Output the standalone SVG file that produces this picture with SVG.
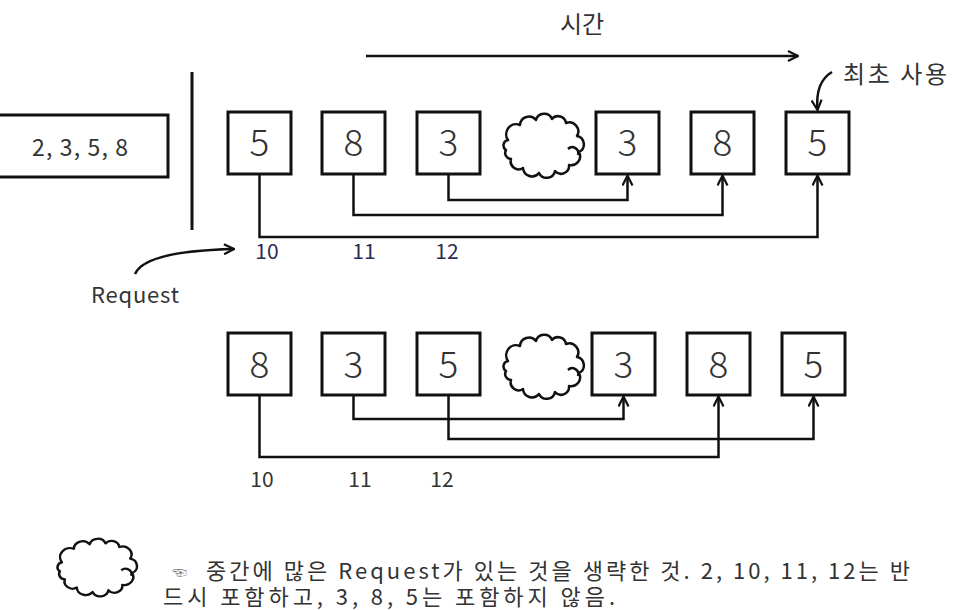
<svg xmlns="http://www.w3.org/2000/svg" xmlns:xlink="http://www.w3.org/1999/xlink" width="954" height="610" viewBox="0 0 954 610">
<style>
  .box { fill: #fff; stroke: #111; stroke-width: 3; }
  .num { font-family: "Noto Sans CJK KR", "Noto Sans", sans-serif; font-size: 37px; font-weight: 300; fill: #333; text-anchor: middle; }
  .lbl { font-family: "Noto Sans CJK KR", "Noto Sans", sans-serif; font-size: 21px; fill: #333; text-anchor: middle; }
  .lbl.top { fill: #2b2b55; }
  .txt { font-family: "Noto Sans CJK KR", "Noto Sans", sans-serif; fill: #333; }
  .conn { fill: none; stroke: #111; stroke-width: 2.5; }
  .cloud { fill: #fff; stroke: #111; stroke-width: 2.5; stroke-linejoin: round; }
</style>
<defs>
  <marker id="arr" viewBox="0 0 12 12" refX="11" refY="6" markerWidth="12" markerHeight="12" markerUnits="userSpaceOnUse" orient="auto">
    <path d="M1,1 L11,6 L1,11" fill="none" stroke="#111" stroke-width="2.2"/>
  </marker>
  <g id="cloud">
    <path class="cloud" d="M9,27 A10,10 0 0 1 21,12 A9,9 0 0 1 37,7 A8.5,8.5 0 0 1 53,6 A8,8 0 0 1 67,10 A9,9 0 0 1 78,23 A8.5,8.5 0 0 1 80,39 A9,9 0 0 1 70,52 A8,8 0 0 1 56,58 A8.5,8.5 0 0 1 40,60 A9,9 0 0 1 24,55 A8,8 0 0 1 12,46 A6,6 0 0 1 7,37 A5.5,5.5 0 0 1 9,27 Z"/>
    <path class="cloud" fill="none" d="M69,36 A6,6 0 0 1 79,42"/>
  </g>
</defs>
<rect width="954" height="610" fill="#fff"/>

<!-- time axis -->
<text class="txt" x="582" y="33" font-size="24" text-anchor="middle">시간</text>
<line class="conn" x1="366" y1="56" x2="798" y2="56" stroke="#333" marker-end="url(#arr)"/>

<!-- input set -->
<g id="input">
  <rect class="box" x="-3" y="115" width="171" height="62"/>
  <text class="txt" x="32" y="156" font-size="23" textLength="96" lengthAdjust="spacing">2, 3, 5, 8</text>
</g>
<line x1="192" y1="72" x2="192" y2="230" stroke="#111" stroke-width="3"/>

<!-- top row -->
<g id="t1"><rect class="box" x="228" y="112" width="63" height="62"/><text class="num" x="259.5" y="156">5</text></g>
<g id="t2"><rect class="box" x="322" y="112" width="63" height="62"/><text class="num" x="353.5" y="156">8</text></g>
<g id="t3"><rect class="box" x="417" y="112" width="63" height="62"/><text class="num" x="448.5" y="156">3</text></g>
<g id="tcloud"><use xlink:href="#cloud" href="#cloud" transform="translate(499,113)"/></g>
<g id="t4"><rect class="box" x="596" y="112" width="63" height="62"/><text class="num" x="627.5" y="156">3</text></g>
<g id="t5"><rect class="box" x="691" y="112" width="63" height="62"/><text class="num" x="722.5" y="156">8</text></g>
<g id="t6"><rect class="box" x="786" y="112" width="63" height="62"/><text class="num" x="817.5" y="156">5</text></g>

<g id="top-connectors">
  <polyline class="conn" points="448.5,174 448.5,200 627.5,200 627.5,175.5" marker-end="url(#arr)"/>
  <polyline class="conn" points="353.5,174 353.5,215 722.5,215 722.5,175.5" marker-end="url(#arr)"/>
  <polyline class="conn" points="259.5,174 259.5,237 817.5,237 817.5,175.5" marker-end="url(#arr)"/>
  <path class="conn" d="M832,72 Q815,82 817.5,110" marker-end="url(#arr)"/>
  <path class="conn" d="M135,274 Q145,251 234,249" marker-end="url(#arr)"/>
</g>

<text class="txt" x="843" y="83" font-size="24" textLength="104" lengthAdjust="spacing">최초 사용</text>
<text class="lbl top" x="267" y="259">10</text>
<text class="lbl top" x="364" y="259">11</text>
<text class="lbl top" x="447" y="259">12</text>
<text class="txt" x="91" y="303" font-size="22" textLength="88" lengthAdjust="spacing">Request</text>

<!-- bottom row -->
<g id="b1"><rect class="box" x="228" y="333" width="63" height="62"/><text class="num" x="259.5" y="378">8</text></g>
<g id="b2"><rect class="box" x="322" y="333" width="63" height="62"/><text class="num" x="353.5" y="378">3</text></g>
<g id="b3"><rect class="box" x="417" y="333" width="63" height="62"/><text class="num" x="448.5" y="378">5</text></g>
<g id="bcloud"><use xlink:href="#cloud" href="#cloud" transform="translate(499,334)"/></g>
<g id="b4"><rect class="box" x="592" y="333" width="63" height="62"/><text class="num" x="623.5" y="378">3</text></g>
<g id="b5"><rect class="box" x="687" y="333" width="63" height="62"/><text class="num" x="718.5" y="378">8</text></g>
<g id="b6"><rect class="box" x="782" y="333" width="63" height="62"/><text class="num" x="813.5" y="378">5</text></g>

<g id="bottom-connectors">
  <polyline class="conn" points="353.5,395 353.5,419 623.5,419 623.5,396.5" marker-end="url(#arr)"/>
  <polyline class="conn" points="448.5,395 448.5,439 813.5,439 813.5,396.5" marker-end="url(#arr)"/>
  <polyline class="conn" points="259.5,395 259.5,457 718.5,457 718.5,396.5" marker-end="url(#arr)"/>
</g>

<text class="lbl" x="262" y="487">10</text>
<text class="lbl" x="360" y="487">11</text>
<text class="lbl" x="442" y="487">12</text>

<!-- legend -->
<g id="legend-cloud"><use xlink:href="#cloud" href="#cloud" transform="translate(53,538) scale(0.99,0.9)"/></g>
<text class="txt" font-size="22"><tspan x="172" y="578" font-size="15" fill="#777">☜</tspan><tspan x="206" y="579" textLength="704" lengthAdjust="spacing">중간에 많은 Request가 있는 것을 생략한 것. 2, 10, 11, 12는 반</tspan><tspan x="163" y="605" textLength="452" lengthAdjust="spacing">드시 포함하고, 3, 8, 5는 포함하지 않음.</tspan></text>
</svg>
